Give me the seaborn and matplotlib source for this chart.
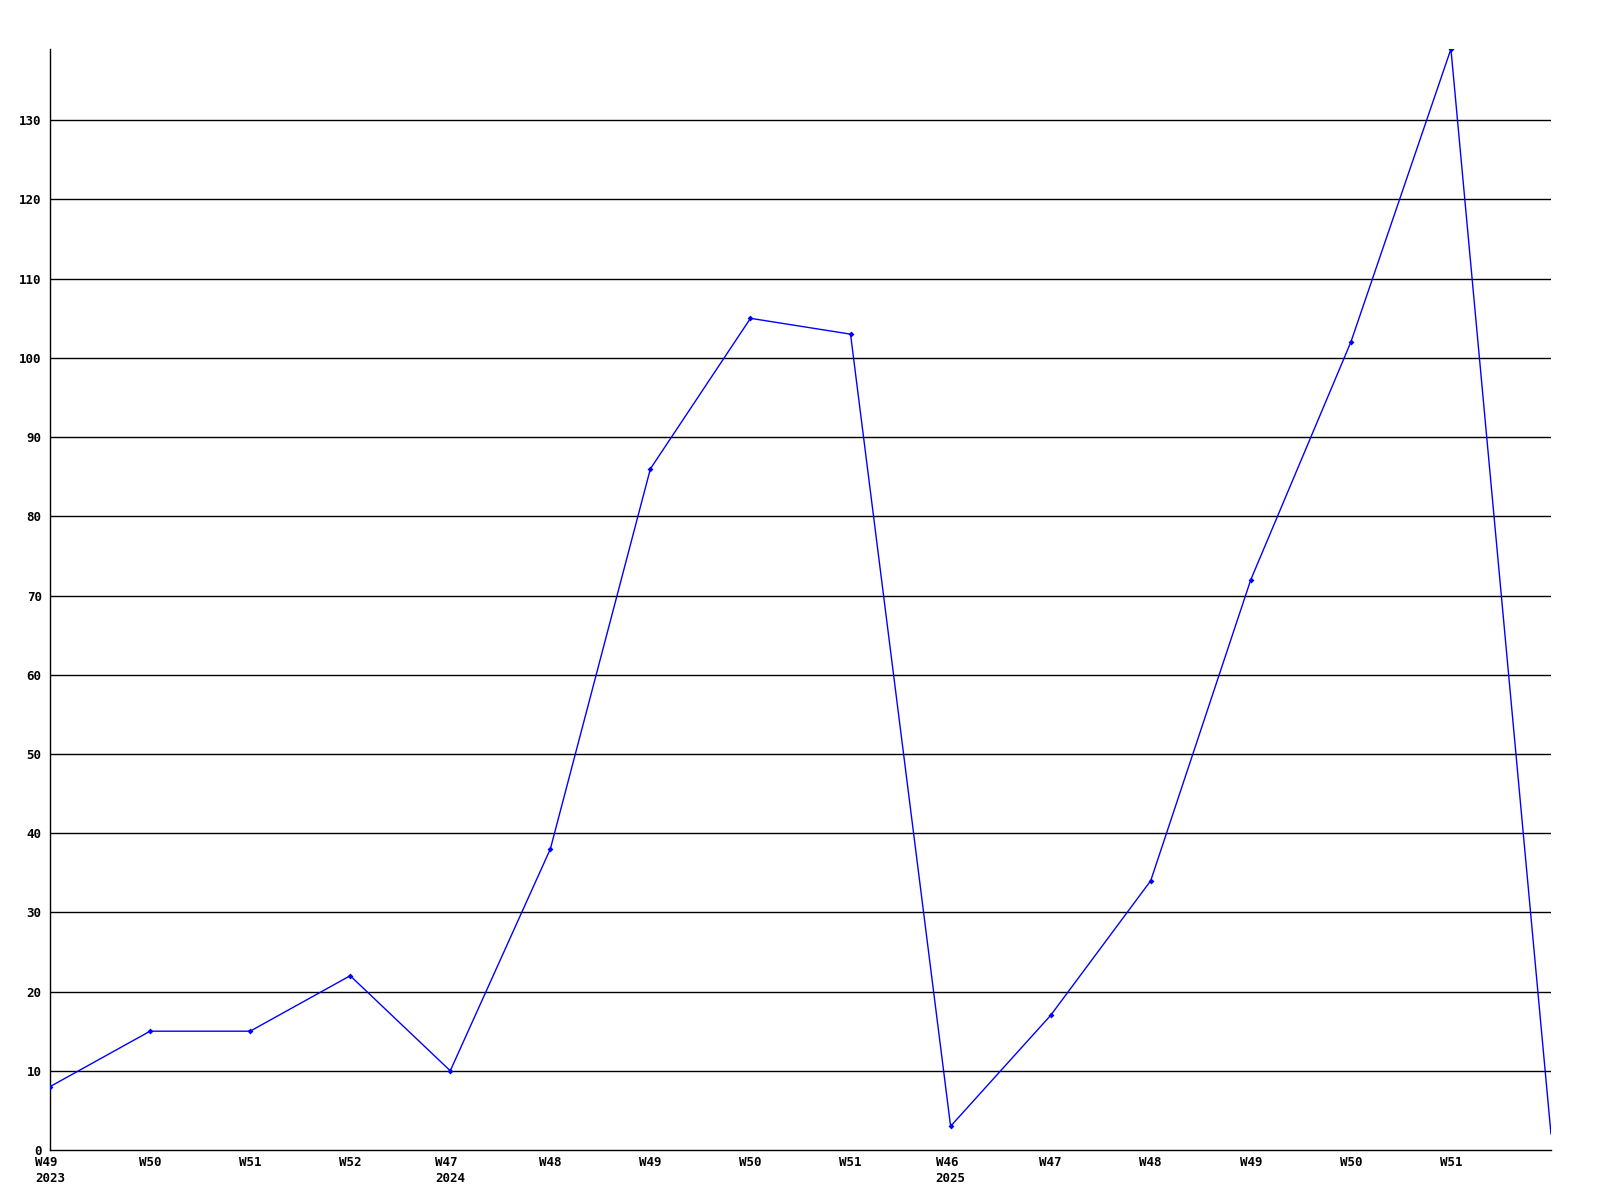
import matplotlib
matplotlib.use("Agg")
import matplotlib.pyplot as plt
import seaborn as sns
import pandas as pd

weeks = ["W49\n2023", "W50", "W51", "W52", "W47\n2024", "W48", "W49", "W50",
         "W51", "W46\n2025", "W47", "W48", "W49", "W50", "W51", ""]
values = [8, 15, 15, 22, 10, 38, 86, 105, 103, 3, 17, 34, 72, 102, 139, 2]
yticks = list(range(0, 140, 10))

df = pd.DataFrame({"pos": range(len(values)), "value": values})

sns.set_style("white")
plt.rcParams["font.family"] = ["DejaVu Sans Mono"]

fig = plt.figure(figsize=(16, 12), dpi=100)
ax = fig.add_axes([50 / 1600, 1 - 1150 / 1200, 1501 / 1600, 1101 / 1200])

for v in yticks[1:]:
    ax.axhline(v, color="black", lw=1, zorder=1)

# last point is drawn without a marker in the original
sns.lineplot(data=df, x="pos", y="value", ax=ax, color="#0000ff", lw=1,
             marker="D", markersize=3, markeredgewidth=0, zorder=3,
             markevery=list(range(len(values) - 1)))

ax.set_xlim(0, len(values) - 1)
ax.set_ylim(0, max(values))
ax.set_xticks(range(len(weeks)))
ax.set_xticklabels(weeks, fontsize=9, fontweight="bold", ma="left",
                   linespacing=1.3, color="black")
ax.set_yticks(yticks)
ax.set_yticklabels([str(v) for v in yticks], fontsize=9, fontweight="bold",
                   color="black")
ax.tick_params(axis="y", length=0, pad=6)
ax.tick_params(axis="x", length=0, pad=4)
ax.set_xlabel("")
ax.set_ylabel("")

for s in ["top", "right"]:
    ax.spines[s].set_visible(False)
for s in ["left", "bottom"]:
    ax.spines[s].set_color("black")
    ax.spines[s].set_linewidth(1)

fig.savefig("out.png", dpi=100, facecolor="white")
